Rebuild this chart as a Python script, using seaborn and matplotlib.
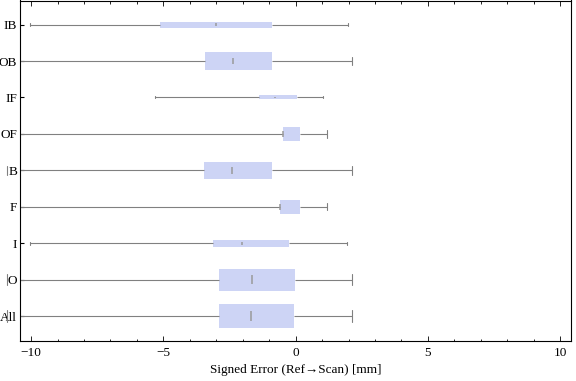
import numpy as np
import pandas as pd
import seaborn as sns
import matplotlib.pyplot as plt
from matplotlib.ticker import MultipleLocator

# five-number summaries (signed error, mm)
cats = ["IB", "OB", "IF", "OF", "B", "F", "I", "O", "All"]
err_min = [-10.05, -12.0, -5.30, -12.0, -10.9, -12.0, -10.05, -10.9, -10.9]
err_q1 = [-5.12, -3.42, -1.38, -0.47, -3.46, -0.59, -3.12, -2.89, -2.89]
err_med = [-3.02, -2.35, -0.78, -0.47, -2.41, -0.59, -2.03, -1.66, -1.68]
err_q3 = [-0.89, -0.89, 0.06, 0.17, -0.90, 0.17, -0.25, -0.02, -0.06]
err_max = [1.97, 2.15, 1.03, 1.20, 2.15, 1.20, 1.96, 2.15, 2.15]
box_widths = [0.165, 0.47, 0.11, 0.40, 0.48, 0.40, 0.19, 0.61, 0.65]

box_color = "#CDD4F5"
line_color = "#808080"

sns.set_theme(style="white")
plt.rcParams["font.family"] = ["Liberation Serif", "DejaVu Serif"]
plt.rcParams["axes.unicode_minus"] = True
plt.rcParams["text.color"] = "black"
plt.rcParams["xtick.color"] = "black"
plt.rcParams["ytick.color"] = "black"
plt.rcParams["axes.labelcolor"] = "black"

# each category as its five summary values -> seaborn recovers the same quartiles
rows = []
for c, a, b, m, d, e in zip(cats, err_min, err_q1, err_med, err_q3, err_max):
    for v in (a, b, m, d, e):
        rows.append({"cat": c, "err": v})
df = pd.DataFrame(rows)

fig = plt.figure(figsize=(5.76, 3.81), dpi=100)
ax = fig.add_axes([20 / 576, 1 - 341 / 381, 550.7 / 576, 340.5 / 381])

for c, w, m in zip(cats, box_widths, err_med):
    n0 = len(ax.lines)
    sns.boxplot(data=df[df.cat == c], x="err", y="cat", order=cats, whis=(0, 100),
                width=w, color=box_color, saturation=1, linecolor=line_color,
                linewidth=0.8, showfliers=False, ax=ax)
    for ln in ax.lines[n0:]:
        xs, ys = ln.get_xdata(), ln.get_ydata()
        if xs[0] == xs[1]:
            if np.isclose(xs[0], m):
                # short median mark, like the original
                cy, h = (ys[0] + ys[1]) / 2, abs(ys[1] - ys[0]) / 2
                ln.set_ydata([cy - 0.4 * h, cy + 0.4 * h])
                ln.set_linewidth(1.1)
                ln.set_color("#9a9a9a")
            else:
                ln.set_clip_on(False)

for p in ax.patches:
    p.set_edgecolor("none")

ax.set_xlim(-10.42, 10.4)
ax.set_ylim(8.68, -0.66)
ax.xaxis.set_major_locator(MultipleLocator(5))
ax.xaxis.set_minor_locator(MultipleLocator(1))
ax.tick_params(axis="x", which="both", direction="in", top=True, bottom=True,
               labelsize=9.5, pad=4)
ax.tick_params(axis="x", which="major", length=3.5, width=0.6)
ax.tick_params(axis="x", which="minor", length=1.8, width=0.6)
ax.tick_params(axis="y", direction="in", left=True, length=3, width=0.8,
               labelsize=9.5, pad=2)
for s in ax.spines.values():
    s.set_color("black")
    s.set_linewidth(0.8)

ax.set_ylabel("")
ax.set_xlabel("Signed Error (Ref\u2192Scan) [mm]", fontsize=9.5, labelpad=4)

fig.savefig("out.png", dpi=100)
